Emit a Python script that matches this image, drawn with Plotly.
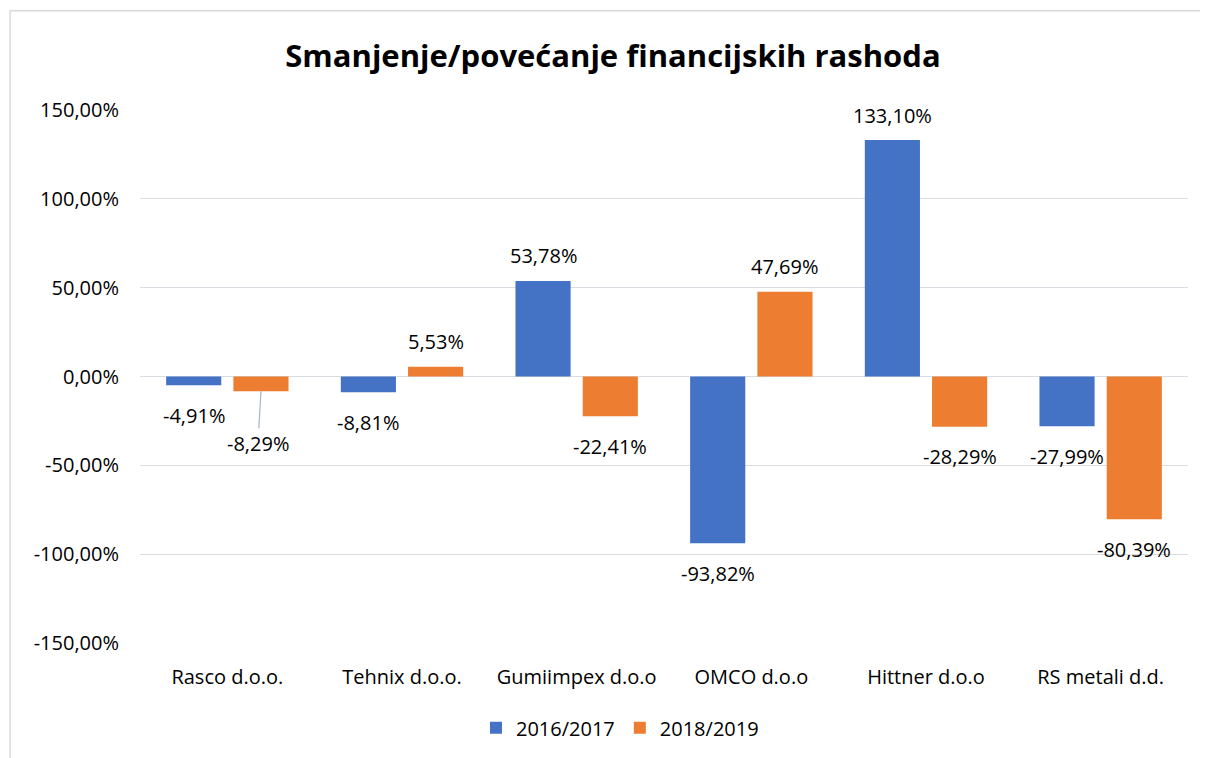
import plotly.graph_objects as go

categories = ["Rasco d.o.o.", "Tehnix d.o.o.", "Gumiimpex d.o.o", "OMCO d.o.o", "Hittner d.o.o", "RS metali d.d."]
series_names = ["2016/2017", "2018/2019"]
values_1617 = [-4.91, -8.81, 53.78, -93.82, 133.10, -27.99]
values_1819 = [-8.29, 5.53, -22.41, 47.69, -28.29, -80.39]
tick_vals = [-150, -100, -50, 0, 50, 100, 150]
tick_text = ["-150,00%", "-100,00%", "-50,00%", "0,00%", "50,00%", "100,00%", "150,00%"]
colors = ["#4472C4", "#ED7D31"]

FONT = "Open Sans"
FS = 20

def fmt(v):
    return f"{v:.2f}".replace(".", ",") + "%"

fig = go.Figure()
for name, vals, col in zip(series_names, [values_1617, values_1819], colors):
    fig.add_trace(go.Bar(
        x=categories, y=vals, name=name,
        marker=dict(color=col, line=dict(width=0)),
    ))

# data labels via annotations (offset from bar ends)
annotations = []
for k, (vals, shift) in enumerate([(values_1617, -0.1925), (values_1819, 0.1925)]):
    for i, v in enumerate(vals):
        xpos = i + shift
        if k == 1 and i == 0:
            # label with leader line
            annotations.append(dict(
                x=xpos, y=v, xref="x", yref="y", text=fmt(v),
                showarrow=True, arrowhead=0, arrowwidth=1.2, arrowcolor="#A6B4C8",
                ax=-3, ay=52, standoff=0, startstandoff=0,
                font=dict(family=FONT, size=FS, color="#000000"),
            ))
            continue
        annotations.append(dict(
            x=xpos, y=v, xref="x", yref="y", text=fmt(v), showarrow=False,
            yanchor="middle", yshift=25 if v >= 0 else -30,
            font=dict(family=FONT, size=FS, color="#000000"),
        ))

fig.update_layout(
    width=1208, height=758,
    margin=dict(l=132, r=28, t=102, b=123),
    paper_bgcolor="white", plot_bgcolor="white",
    title=dict(text="<b>Smanjenje/povećanje financijskih rashoda</b>",
               x=0.5008, xref="container", xanchor="center",
               y=0.937, yref="container", yanchor="middle",
               font=dict(family=FONT, size=31, color="#000000")),
    barmode="group", bargap=0.23, bargroupgap=0.18,
    font=dict(family=FONT, size=FS, color="#000000"),
    legend=dict(orientation="h", x=0.458, xanchor="center", y=-0.159, yanchor="middle",
                font=dict(family=FONT, size=FS, color="#000000"),
                itemwidth=30, traceorder="normal"),
    annotations=annotations,
    showlegend=True,
    shapes=[dict(type="rect", xref="paper", yref="paper",
                 x0=-0.124, x1=1.2, y0=-0.5, y1=1.186,
                 line=dict(color="#D9D9D9", width=1.5), fillcolor="rgba(0,0,0,0)", layer="below")],
)
fig.update_yaxes(range=[-150, 150], tickvals=tick_vals, ticktext=tick_text,
                 showgrid=True, gridcolor="#D9DCE1", gridwidth=1,
                 zeroline=True, zerolinecolor="#D9DCE1", zerolinewidth=1,
                 showline=False, ticks="", ticklabelstandoff=20,
                 tickfont=dict(family=FONT, size=FS, color="#000000"))
fig.update_xaxes(showgrid=False, showline=False, ticks="", ticklabelstandoff=20,
                 tickfont=dict(family=FONT, size=FS, color="#000000"))

fig.write_html("out.html")
